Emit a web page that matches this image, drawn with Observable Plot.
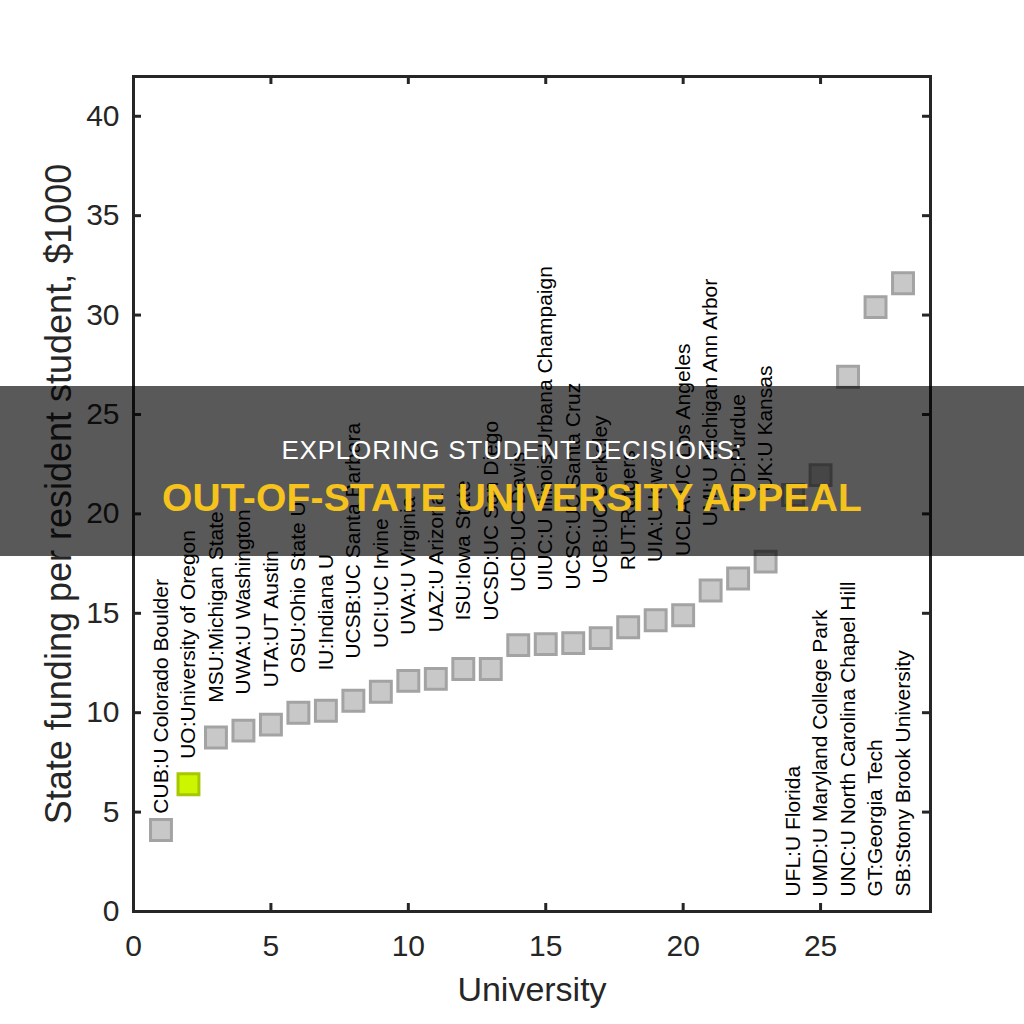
<!DOCTYPE html>
<html>
<head>
<meta charset="utf-8">
<script src="https://cdn.jsdelivr.net/npm/d3@7"></script>
<script src="https://cdn.jsdelivr.net/npm/@observablehq/plot@0.6"></script>
<style>
  html, body { margin: 0; padding: 0; background: #fff; }
  #wrap { position: relative; width: 1024px; height: 1024px; overflow: hidden; }
  #overlay {
    position: absolute; left: 0; top: 386px; width: 1024px; height: 170px;
    background: rgba(0,0,0,0.65);
  }
  .ttl {
    position: absolute; left: 0; width: 1024px; text-align: center; line-height: 1;
    font-family: "Liberation Sans", Arial, Helvetica, sans-serif; white-space: nowrap;
  }
  #t1 { top: 437px; color: #fff; font-size: 26px; letter-spacing: 0.8px; }
  #t2 { top: 478px; color: #f5c31c; font-size: 39px; font-weight: bold; letter-spacing: 0.2px; }
</style>
</head>
<body>
<div id="wrap">
  <div id="chart"></div>
  <div id="overlay"></div>
  <div id="t1" class="ttl">EXPLORING STUDENT DECISIONS:</div>
  <div id="t2" class="ttl">OUT-OF-STATE UNIVERSITY APPEAL</div>
</div>
<script>
const universityIndex = [1,2,3,4,5,6,7,8,9,10,11,12,13,14,15,16,17,18,19,20,21,22,23,24,25,26,27,28];
const universityLabels = [
  "CUB:U Colorado Boulder", "UO:University of Oregon", "MSU:Michigan State", "UWA:U Washington",
  "UTA:UT Austin", "OSU:Ohio State U", "IU:Indiana U", "UCSB:UC Santa Barbara", "UCI:UC Irvine",
  "UVA:U Virginia", "UAZ:U Arizona", "ISU:Iowa State", "UCSD:UC San Diego", "UCD:UC Davis",
  "UIUC:U Illinois Urbana Champaign", "UCSC:UC Santa Cruz", "UCB:UC Berkeley", "RUT:Rutgers",
  "UIA:U Iowa", "UCLA:UC Los Angeles", "UMI:U Michigan Ann Arbor", "PRD:Purdue", "UK:U Kansas",
  "UFL:U Florida", "UMD:U Maryland College Park", "UNC:U North Carolina Chapel Hill",
  "GT:Georgia Tech", "SB:Stony Brook University"
];
const funding = [4.1, 6.4, 8.75, 9.1, 9.4, 10.0, 10.1, 10.6, 11.05, 11.6, 11.7, 12.2, 12.2, 13.4,
  13.45, 13.5, 13.75, 14.3, 14.65, 14.9, 16.15, 16.75, 17.6, 20.95, 21.95, 26.9, 30.4, 31.6];
const highlighted = ["UO:University of Oregon"];
const xTicks = [0, 5, 10, 15, 20, 25];
const yTicks = [0, 5, 10, 15, 20, 25, 30, 35, 40];
const xTitle = "University";
const yTitle = "State funding per resident student, $1000";

const data = universityIndex.map((x, i) => ({
  x, y: funding[i], label: universityLabels[i],
  hl: highlighted.includes(universityLabels[i])
}));
// labels above points for the first 23, along the bottom for the rest
const labelY = d => d.x <= 23 ? d.y * 1.2 : 0.75;

const W = 1024, H = 1024, mL = 133, mR = 94, mT = 76, mB = 113;
const pw = W - mL - mR, ph = H - mT - mB;
const axisColor = "#262626";
const font = "Liberation Sans, Arial, Helvetica, sans-serif";

const chart = Plot.plot({
  width: W, height: H,
  marginLeft: mL, marginRight: mR, marginTop: mT, marginBottom: mB,
  x: {domain: [0, 29]},
  y: {domain: [0, 42]},
  style: {fontFamily: font, background: "white", color: axisColor},
  marks: [
    Plot.text(data, {x: "x", y: labelY, text: "label", rotate: -90, textAnchor: "start",
      lineAnchor: "middle", fontSize: 21, fill: "#000"}),
    Plot.dot(data, {x: "x", y: "y", symbol: "square", r: 11.8,
      fill: d => d.hl ? "#ccf500" : "#c8c8c8",
      stroke: d => d.hl ? "#a6c800" : "#a3a3a3", strokeWidth: 3}),
    Plot.tickX(xTicks, {x: d => d, insetTop: ph - 8, stroke: axisColor, strokeWidth: 3}),
    Plot.tickX(xTicks, {x: d => d, insetBottom: ph - 8, stroke: axisColor, strokeWidth: 3}),
    Plot.tickY(yTicks, {y: d => d, insetRight: pw - 8, stroke: axisColor, strokeWidth: 3}),
    Plot.tickY(yTicks, {y: d => d, insetLeft: pw - 8, stroke: axisColor, strokeWidth: 3}),
    Plot.frame({stroke: axisColor, strokeWidth: 3}),
    Plot.axisX(xTicks, {tickSize: 0, tickPadding: 23, fontSize: 30, label: null, fill: axisColor}),
    Plot.axisY(yTicks, {tickSize: 0, tickPadding: 14, fontSize: 30, label: null, fill: axisColor}),
    Plot.text([xTitle], {frameAnchor: "bottom", textAnchor: "middle", lineAnchor: "bottom", dy: 89, fontSize: 34, fill: axisColor}),
    Plot.text([yTitle], {frameAnchor: "left", textAnchor: "middle", rotate: -90, lineAnchor: "bottom", dx: -63, fontSize: 36, fill: axisColor})
  ]
});
document.getElementById("chart").appendChild(chart);
</script>
</body>
</html>
